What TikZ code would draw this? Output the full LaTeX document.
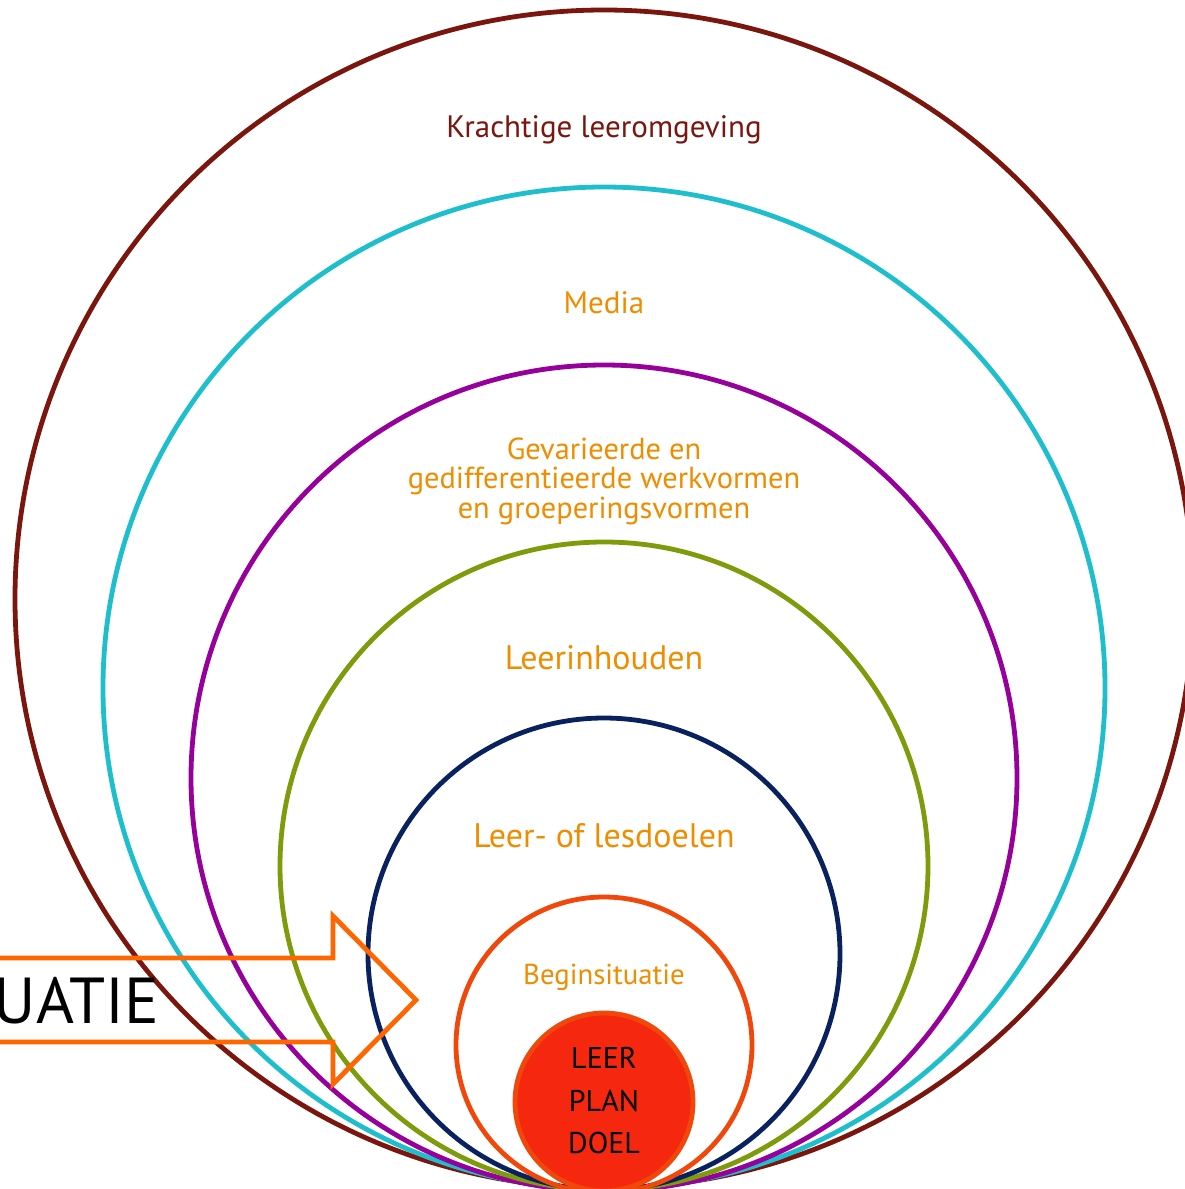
\documentclass[tikz,border=0pt]{standalone}
\usepackage{fontspec}
\setmainfont{PT Sans}
\usetikzlibrary{positioning}
\definecolor{ringred}{RGB}{122,22,14}
\definecolor{ringcyan}{RGB}{30,190,205}
\definecolor{ringpurple}{RGB}{150,0,155}
\definecolor{ringolive}{RGB}{125,155,10}
\definecolor{ringnavy}{RGB}{10,33,96}
\definecolor{ringorange}{RGB}{240,72,10}
\definecolor{corefill}{RGB}{245,40,15}
\definecolor{lblorange}{RGB}{240,140,0}
\definecolor{arroworange}{RGB}{255,102,0}

\begin{document}
\begin{tikzpicture}[
  x=0.5pt, y=-0.5pt,
  ring/.style={line width=2.4pt},
  lbl/.style={text=lblorange, align=center, inner sep=0pt},
  arr/.style={draw=arroworange, line width=2.4pt, miter limit=10}
]
\useasboundingbox (0,0) rectangle (1184,1189);

% rings, all touching at the bottom
\draw[ring, ringred]    (604,599)  circle[radius=589];
\draw[ring, ringcyan]   (604,688)  circle[radius=501];
\draw[ring, ringpurple] (604,778)  circle[radius=413];
\draw[ring, ringolive]  (604,866)  circle[radius=324];
\draw[ring, ringnavy]   (604,954)  circle[radius=236];
\draw[ring, ringorange] (604,1045) circle[radius=148];
\draw[ring, draw=ringorange, fill=corefill] (604,1102) circle[radius=89];

% labels
\node[lbl, text=ringred, font=\fontsize{15.5}{18}\selectfont] (omgeving) at (604,130) {Krachtige leeromgeving};
\node[lbl, font=\fontsize{15.5}{18}\selectfont] (media) at (604,303) {Media};
\node[lbl, font=\fontsize{15.2}{14.75}\selectfont] (werkvormen) at (604,481)
  {Gevarieerde en\\gedifferentieerde werkvormen\\en groeperingsvormen};
\node[lbl, font=\fontsize{17}{20}\selectfont] (inhouden) at (604,658) {Leerinhouden};
\node[lbl, font=\fontsize{17}{20}\selectfont] (doelen) at (604,836) {Leer- of lesdoelen};
\node[lbl, font=\fontsize{14.4}{17}\selectfont] (begin) at (604,977) {Beginsituatie};
\node[lbl, text=black, font=\fontsize{15}{21.25}\selectfont] (kern) at (604,1101) {LEER\\PLAN\\DOEL};

% evaluatie arrow
\draw[arr] (-20,958) -- (333,958) -- (333,916) -- (416,1000) -- (333,1084)
  -- (333,1042) -- (-20,1042);
\node[anchor=base east, inner sep=0pt, font=\fontsize{32.5}{38}\selectfont] (evaluatie) at (160,1023) {EVALUATIE};
\end{tikzpicture}
\end{document}
